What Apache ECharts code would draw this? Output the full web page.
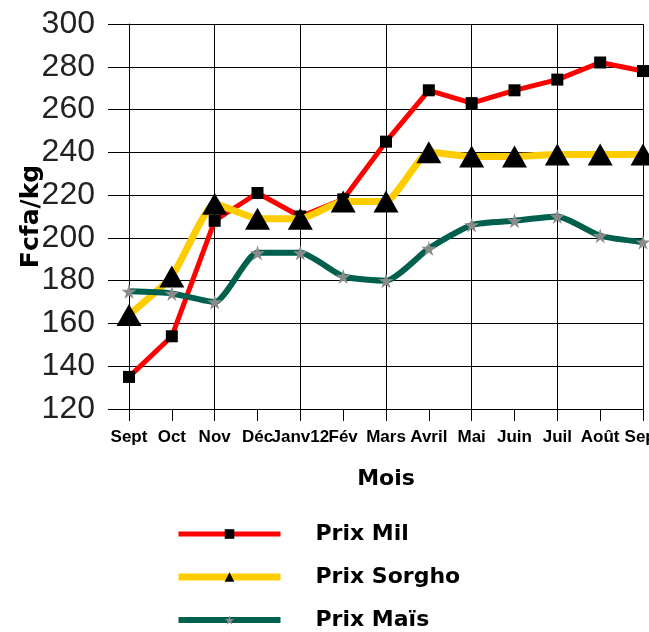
<!DOCTYPE html>
<html>
<head>
<meta charset="utf-8">
<script src="https://cdn.jsdelivr.net/npm/echarts@6/dist/echarts.min.js"></script>
<style>html,body{margin:0;padding:0;background:#fff;}#c{width:649px;height:632px;}</style>
</head>
<body>
<div id="c"></div>
<script>
var months = ['Sept', 'Oct', 'Nov', 'Déc', 'Janv12', 'Fév', 'Mars', 'Avril', 'Mai', 'Juin', 'Juil', 'Août', 'Sept'];
var prixMil = [135, 154, 208, 221, 210, 218, 245, 269, 263, 269, 274, 282, 278];
var prixSorgho = [164, 182, 216, 209, 209, 217, 217, 240, 238, 238, 239, 239, 239];
var prixMais = [175, 174, 170, 193, 193, 182, 180, 195, 206, 208, 210, 201, 198];
var seriesNames = ['Prix Mil', 'Prix Sorgho', 'Prix Maïs'];
var yTicks = [120, 140, 160, 180, 200, 220, 240, 260, 280, 300];

var star = 'path://M50,0 L61,35 L98,35 L68,57 L79,91 L50,70 L21,91 L32,57 L2,35 L39,35 Z';
var chart = echarts.init(document.getElementById('c'), null, {renderer: 'canvas'});
chart.setOption({
  backgroundColor: '#ffffff',
  animation: false,
  grid: {left: 129, right: 6, top: 24, bottom: 223, containLabel: false, outerBoundsMode: 'none'},
  legend: {
    orient: 'vertical',
    left: 170,
    top: 518,
    height: 200,
    itemWidth: 102,
    itemHeight: 12,
    itemGap: 21,
    data: [
      {name: seriesNames[0], lineStyle: {width: 5}},
      {name: seriesNames[1], lineStyle: {width: 7}},
      {name: seriesNames[2], lineStyle: {width: 6}}
    ],
    textStyle: {fontFamily: 'DejaVu Sans', fontWeight: 'bold', fontSize: 22, color: '#000', padding: [0, 0, 0, 30], lineHeight: 12}
  },
  xAxis: {
    type: 'category',
    data: months,
    boundaryGap: false,
    name: 'Mois',
    nameLocation: 'middle',
    nameGap: 59,
    nameMoveOverlap: false,
    nameTextStyle: {fontFamily: 'DejaVu Sans', fontWeight: 'bold', fontSize: 22, color: '#000'},
    axisLine: {show: true, lineStyle: {color: '#000', width: 1}},
    axisTick: {show: true, interval: 0, length: 12, lineStyle: {color: '#000', width: 1}},
    axisLabel: {interval: 0, margin: 20, fontFamily: 'Liberation Sans', fontWeight: 'bold', fontSize: 17, color: '#000'},
    splitLine: {show: true, interval: function (i) { return i % 2 === 0; }, lineStyle: {color: '#000', width: 1}}
  },
  yAxis: {
    type: 'value',
    min: yTicks[0],
    max: yTicks[yTicks.length - 1],
    interval: 20,
    name: 'Fcfa/kg',
    nameLocation: 'middle',
    nameGap: 85,
    nameMoveOverlap: false,
    nameTextStyle: {fontFamily: 'DejaVu Sans', fontWeight: 'bold', fontSize: 25, color: '#000'},
    axisLine: {show: true, lineStyle: {color: '#000', width: 1}},
    axisTick: {show: true, length: 21, lineStyle: {color: '#000', width: 1}},
    axisLabel: {margin: 34, fontFamily: 'Liberation Sans', fontSize: 32, color: '#222'},
    splitLine: {show: true, lineStyle: {color: '#000', width: 1}}
  },
  series: [
    {
      name: seriesNames[0], type: 'line', data: prixMil,
      symbol: 'rect', symbolSize: 12,
      lineStyle: {color: '#ff0000', width: 5},
      itemStyle: {color: '#000000'},
      z: 3
    },
    {
      name: seriesNames[1], type: 'line', data: prixSorgho, smooth: 0.15,
      symbol: 'triangle', symbolSize: [25, 22],
      lineStyle: {color: '#ffcc00', width: 7},
      itemStyle: {color: '#000000'},
      z: 4
    },
    {
      name: seriesNames[2], type: 'line', data: prixMais, smooth: 0.2,
      symbol: star, symbolSize: 15,
      lineStyle: {color: '#00604e', width: 6},
      itemStyle: {color: '#8a8a8a'},
      z: 5
    }
  ]
});
</script>
</body>
</html>
